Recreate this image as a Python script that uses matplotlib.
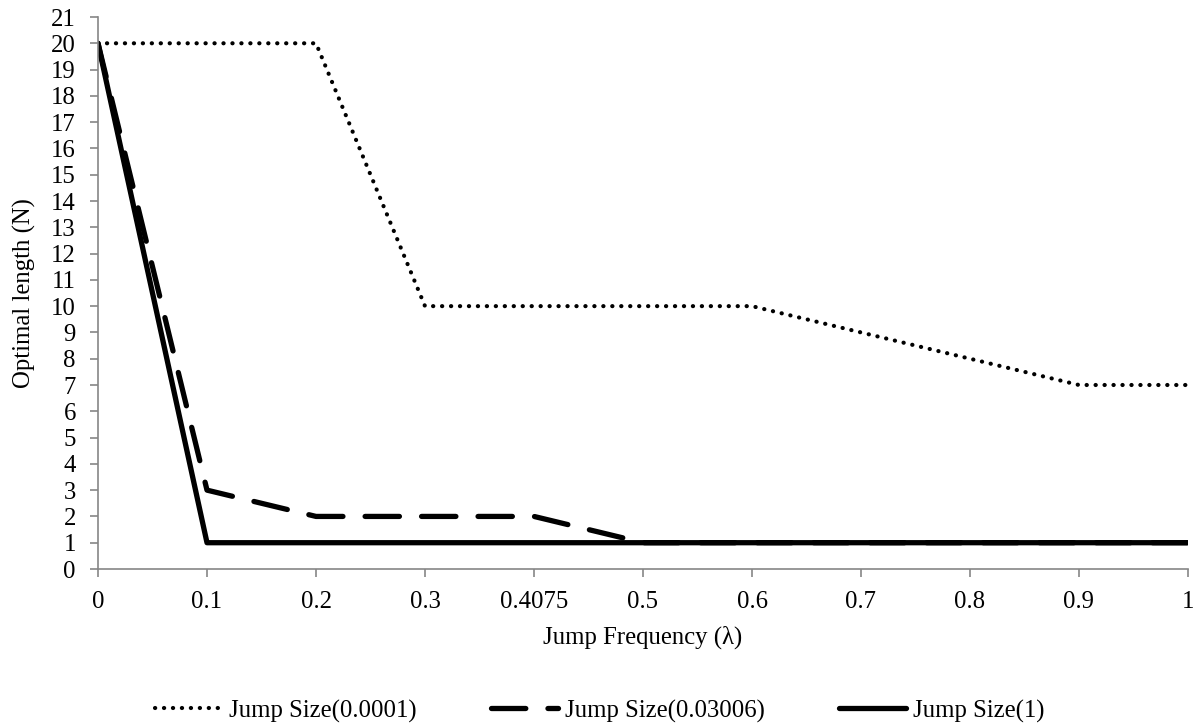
import matplotlib.pyplot as plt

plt.rcParams['font.family'] = ['Liberation Serif', 'DejaVu Serif']

# categories on the x axis (Excel style, equally spaced)
freq_labels = ['0', '0.1', '0.2', '0.3', '0.4075', '0.5', '0.6', '0.7', '0.8', '0.9', '1']
size_0001 = [20, 20, 20, 10, 10, 10, 10, 9, 8, 7, 7]
size_003006 = [20, 3, 2, 2, 2, 1, 1, 1, 1, 1, 1]
size_1 = [20, 1, 1, 1, 1, 1, 1, 1, 1, 1, 1]

pos = list(range(len(freq_labels)))
axis_grey = '#868686'
fs = 17.8

fig = plt.figure(figsize=(12, 7.28), dpi=100)
ax = fig.add_axes([98 / 1200, 1 - 569 / 728, 1090 / 1200, 552 / 728])

ax.plot(pos, size_0001, color='black', lw=3.0, linestyle=(0, (0.05, 2.1)),
        dash_capstyle='round', label='Jump Size(0.0001)')
ax.plot(pos, size_003006, color='black', lw=3.8, linestyle=(0, (6.5, 4.2)),
        dash_capstyle='round', label='Jump Size(0.03006)')
ax.plot(pos, size_1, color='black', lw=3.8, solid_capstyle='round',
        label='Jump Size(1)')

ax.set_xlim(0, len(pos) - 1)
ax.set_ylim(0, 21)
ax.set_xticks(pos)
ax.set_xticklabels(freq_labels)
ax.set_yticks(range(0, 22))

for s in ['top', 'right']:
    ax.spines[s].set_visible(False)
for s in ['left', 'bottom']:
    ax.spines[s].set_color(axis_grey)
    ax.spines[s].set_linewidth(1.2)
ax.tick_params(axis='both', colors=axis_grey, labelcolor='black', labelsize=fs,
               length=6, width=1.2, direction='out')
ax.tick_params(axis='x', pad=10)
ax.tick_params(axis='y', pad=10)

ax.set_xlabel('Jump Frequency (\u03bb)', fontsize=fs, labelpad=9)
ax.set_ylabel('Optimal length (N)', fontsize=fs, labelpad=11)

fig.legend(loc='center', bbox_to_anchor=(0.5, 1 - 711 / 728), ncol=3,
           frameon=False, fontsize=fs, handlelength=2.7, handletextpad=0.3,
           columnspacing=3.0)

fig.savefig('out.png', dpi=100)
